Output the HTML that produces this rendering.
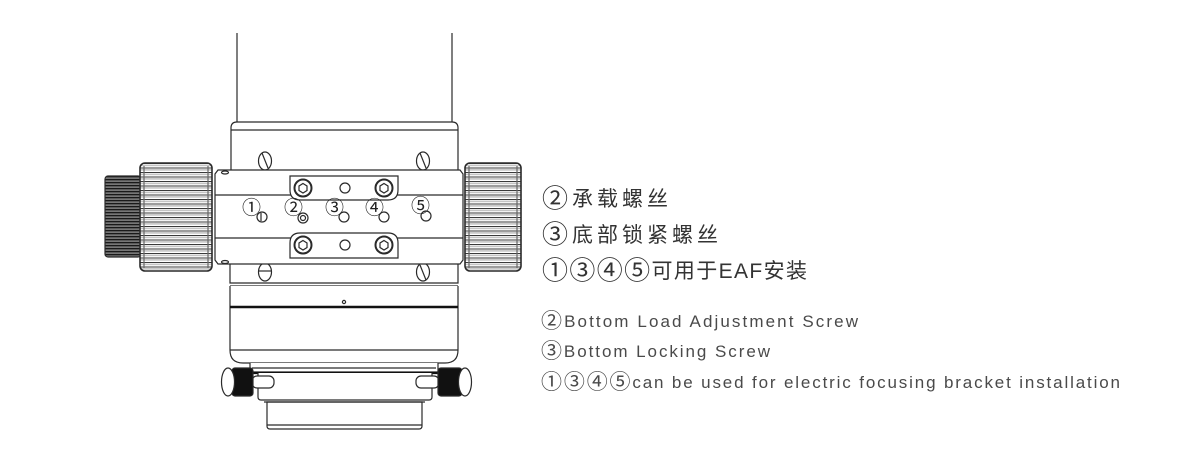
<!DOCTYPE html>
<html><head><meta charset="utf-8"><style>
html,body{margin:0;padding:0;background:#fff;}
svg{display:block;}
</style></head><body>
<svg width="1200" height="463" viewBox="0 0 1200 463" xmlns="http://www.w3.org/2000/svg">
<defs>
<pattern id="kn" patternUnits="userSpaceOnUse" x="0" y="163" width="10" height="4.5">
<rect width="10" height="4.5" fill="#fff"/>
<rect y="0" width="10" height="1" fill="#3a3a3a"/>
<rect y="1.6" width="10" height="1.6" fill="#c4c4c4"/>
</pattern>
<pattern id="knd" patternUnits="userSpaceOnUse" x="0" y="176" width="10" height="3">
<rect width="10" height="3" fill="#777"/>
<rect y="0" width="10" height="1.3" fill="#1a1a1a"/>
</pattern>
</defs>
<g fill="none" stroke="#2a2a2a" stroke-width="1.2">
<line x1="237" y1="33" x2="237" y2="122"/>
<line x1="452" y1="33" x2="452" y2="122"/>
<path d="M231,170 V128 Q231,122 237,122 H452 Q458,122 458,128 V170" fill="#fff"/>
<line x1="231" y1="130" x2="458" y2="130"/>
<ellipse cx="265" cy="161" rx="6.5" ry="9" fill="#fff"/>
<line x1="262" y1="153" x2="268" y2="168"/>
<ellipse cx="423" cy="161" rx="6.5" ry="9" fill="#fff"/>
<line x1="420" y1="153" x2="426" y2="168"/>
<path d="M230,264 V283 H458 V264" fill="#fff"/>
<line x1="230" y1="286" x2="458" y2="286"/>
<path d="M230,286 V350 Q230,363 243,363 H445 Q458,363 458,350 V286" fill="#fff"/>
<line x1="230" y1="307" x2="458" y2="307" stroke-width="2.4" stroke="#111"/>
<line x1="230" y1="350" x2="458" y2="350"/>
<circle cx="344" cy="302" r="1.6"/>
<ellipse cx="265" cy="272" rx="6.5" ry="9" fill="#fff"/>
<line x1="259" y1="271" x2="271" y2="271"/>
<ellipse cx="423" cy="272" rx="6.5" ry="9" fill="#fff"/>
<line x1="420" y1="265" x2="426" y2="280"/>
<path d="M250,363 V372 H438 V363" fill="#fff"/>
<line x1="252" y1="368" x2="436" y2="368"/>
<line x1="250" y1="373" x2="438" y2="373" stroke-width="2.2" stroke="#111"/>
<path d="M258,373 V397 Q258,400 261,400 H429 Q432,400 432,397 V373" fill="#fff"/>
<path d="M267,402 V426 Q267,429 270,429 H419 Q422,429 422,426 V402 Z" fill="#fff"/>
<line x1="267" y1="425" x2="422" y2="425"/>
<line x1="264" y1="402" x2="425" y2="402"/>
<rect x="252" y="376" width="22" height="12" rx="5" fill="#fff"/>
<rect x="232" y="368" width="21" height="28" rx="3" fill="#111"/>
<ellipse cx="228" cy="382" rx="6.5" ry="14" fill="#fff"/>
<rect x="416" y="376" width="23" height="12" rx="5" fill="#fff"/>
<rect x="438" y="368" width="24" height="28" rx="3" fill="#111"/>
<ellipse cx="465" cy="382" rx="6.5" ry="14" fill="#fff"/>
<path d="M218,170 H460 L463,174 V260 L460,264 H218 L215,260 V174 Z" fill="#fff"/>
<line x1="215" y1="195" x2="463" y2="195"/>
<line x1="215" y1="238" x2="463" y2="238"/>
<ellipse cx="225" cy="172.5" rx="3.5" ry="1.5"/>
<ellipse cx="225" cy="262" rx="3.5" ry="1.5"/>
<path d="M290,176 H398 V190 Q398,200 388,200 H300 Q290,200 290,190 Z" fill="#fff"/>
<circle cx="303" cy="188" r="8.5" stroke-width="2"/>
<polygon points="303,183.5 307,186 307,190.5 303,193 299,190.5 299,186"/>
<circle cx="345" cy="188" r="5"/>
<circle cx="384" cy="188" r="8.5" stroke-width="2"/>
<polygon points="384,183.5 388,186 388,190.5 384,193 380,190.5 380,186"/>
<path d="M290,258 H398 V243 Q398,233 388,233 H300 Q290,233 290,243 Z" fill="#fff"/>
<circle cx="303" cy="245" r="8.5" stroke-width="2"/>
<polygon points="303,240.5 307,243 307,247.5 303,250 299,247.5 299,243"/>
<circle cx="345" cy="245" r="5"/>
<circle cx="384" cy="245" r="8.5" stroke-width="2"/>
<polygon points="384,240.5 388,243 388,247.5 384,250 380,247.5 380,243"/>
<circle cx="262" cy="217" r="5"/>
<line x1="261" y1="213" x2="261" y2="221"/>
<circle cx="303" cy="218" r="5"/><circle cx="303" cy="218" r="2.5"/>
<circle cx="344" cy="217" r="5"/>
<circle cx="384" cy="217" r="5"/>
<circle cx="426" cy="216" r="5"/>
<rect x="105" y="176" width="36" height="81" rx="3" fill="url(#knd)"/>
<rect x="140" y="163" width="72" height="108" rx="5" fill="url(#kn)" stroke-width="1.6"/>
<line x1="144" y1="166" x2="144" y2="268" stroke="#666"/>
<line x1="208" y1="166" x2="208" y2="268" stroke="#666"/>
<rect x="465" y="163" width="56" height="108" rx="5" fill="url(#kn)" stroke-width="1.6"/>
<line x1="469" y1="166" x2="469" y2="268" stroke="#666"/>
<line x1="517" y1="166" x2="517" y2="268" stroke="#666"/>
</g>
<!-- number labels on plate -->
<g font-family="'Noto Sans CJK SC','DejaVu Sans',sans-serif" font-size="19" fill="#222">
<text x="242" y="214">①</text>
<text x="284" y="214">②</text>
<text x="325" y="214">③</text>
<text x="365" y="214">④</text>
<text x="411" y="212">⑤</text>
</g>
<!-- Chinese labels -->
<g font-family="'Noto Sans CJK SC',sans-serif" font-size="21" fill="#333">
<text x="542" y="206" textLength="126" lengthAdjust="spacing"><tspan font-size="26" dy="1.5">②</tspan><tspan dy="-1.5">承载螺丝</tspan></text>
<text x="542" y="242" textLength="176" lengthAdjust="spacing"><tspan font-size="26" dy="1.5">③</tspan><tspan dy="-1.5">底部锁紧螺丝</tspan></text>
<text x="542" y="278" textLength="265" lengthAdjust="spacing"><tspan font-size="26" dy="1.5">①③④⑤</tspan><tspan dy="-1.5">可用于</tspan><tspan font-family="'Liberation Sans',sans-serif">EAF</tspan>安装</text>
</g>
<!-- English labels -->
<g font-family="'Liberation Sans','DejaVu Sans',sans-serif" font-size="17" fill="#4a4a4a">
<text x="541" y="327" textLength="317" lengthAdjust="spacing"><tspan font-family="'Noto Sans CJK SC',sans-serif" font-size="21" dy="1">②</tspan><tspan dy="-1">Bottom Load Adjustment Screw</tspan></text>
<text x="541" y="357" textLength="229" lengthAdjust="spacing"><tspan font-family="'Noto Sans CJK SC',sans-serif" font-size="21" dy="1">③</tspan><tspan dy="-1">Bottom Locking Screw</tspan></text>
<text x="541" y="388" textLength="579" lengthAdjust="spacing"><tspan font-family="'Noto Sans CJK SC',sans-serif" font-size="21" dy="1">①③④⑤</tspan><tspan dy="-1">can be used for electric focusing bracket installation</tspan></text>
</g>
</svg>
</body></html>
